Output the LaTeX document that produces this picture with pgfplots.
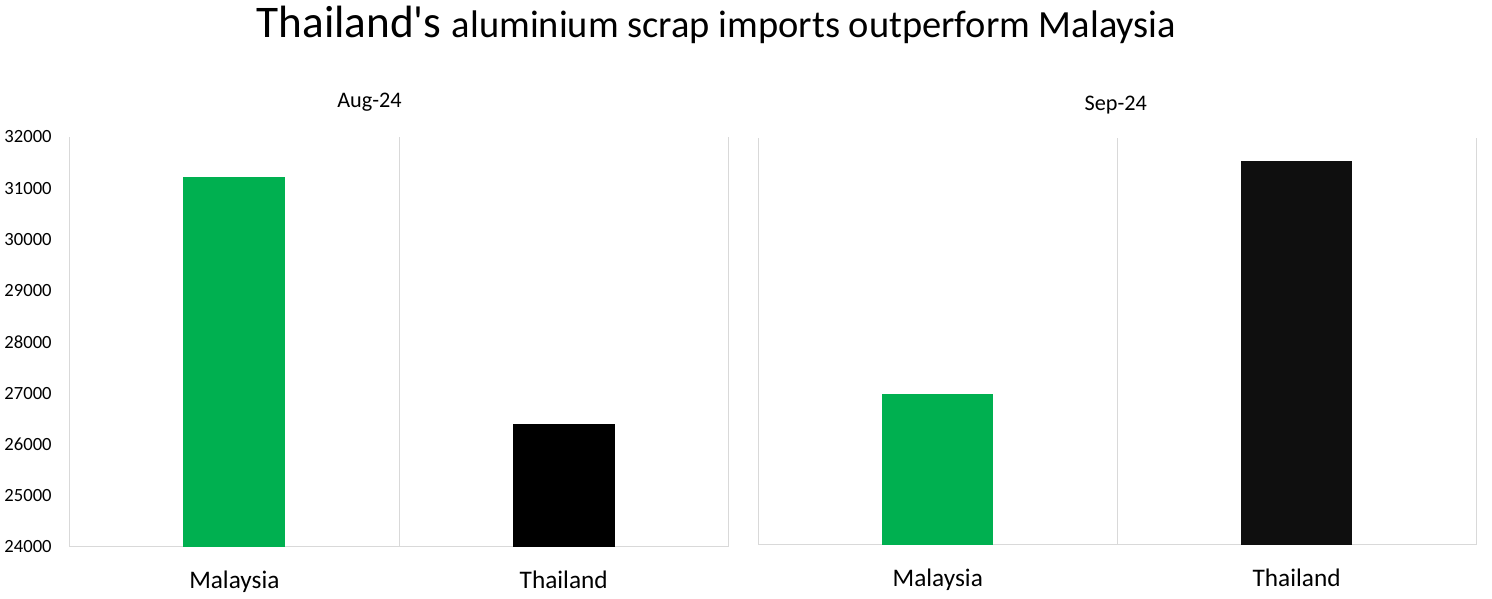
\documentclass[border=0pt]{standalone}
\usepackage{pgfplots}
\pgfplotsset{compat=1.18}
\usepackage{fontspec}
\setmainfont{Carlito}
\definecolor{xgreen}{HTML}{00B050}
\definecolor{xblack}{HTML}{0F0F0F}
\definecolor{gridgray}{HTML}{D9D9D9}
\pgfplotsset{panel/.style={
  scale only axis,
  ymin=24000, ymax=32000, xmin=-0.5, xmax=1.5,
  scaled y ticks=false,
  xtick={0,1}, xticklabels={Malaysia,Thailand},
  minor xtick={-0.5,0.5,1.5},
  xminorgrids=true,
  minor grid style={draw=gridgray, line width=0.75pt},
  axis x line*=bottom, axis y line*=left,
  x axis line style={draw=gridgray, line width=0.75pt, -},
  y axis line style={draw=none},
  major tick length=0pt, minor tick length=0pt,
  tick style={draw=none},
  xticklabel style={font=\fontsize{19}{21}\selectfont, anchor=base, yshift=-31pt},
  yticklabel style={font=\fontsize{14}{16}\selectfont, anchor=east, xshift=-10pt},
  clip=true,
}}
\begin{document}
\begin{tikzpicture}
\path (0,0) rectangle (1119pt,450pt);
\node[anchor=base] at (536.25pt,421.5pt) {\fontsize{34}{36}\selectfont Thailand\textquotesingle s \fontsize{28.9}{31}\selectfont aluminium scrap imports outperform Malaysia};
\node[anchor=base] at (275.5pt,369pt) {\fontsize{16.7}{18}\selectfont Aug-24};
\node[anchor=base] at (836.25pt,366.75pt) {\fontsize{16.7}{18}\selectfont Sep-24};
\begin{axis}[panel,
  at={(50.25pt,39pt)}, anchor=south west,
  width=495pt, height=308.25pt,
  ytick={24000,25000,26000,27000,28000,29000,30000,31000,32000},
  yticklabels={24000,25000,26000,27000,28000,29000,30000,31000,32000},
]
\addplot[ybar, bar width=0.31, bar shift=0pt, fill=xgreen, draw=none] coordinates {(0,31220)};
\addplot[ybar, bar width=0.31, bar shift=0pt, fill=black, draw=none] coordinates {(1,26390)};
\end{axis}
\begin{axis}[panel,
  at={(567.75pt,40.5pt)}, anchor=south west,
  width=539.25pt, height=306pt,
  ytick=\empty,
]
\addplot[ybar, bar width=0.31, bar shift=0pt, fill=xgreen, draw=none] coordinates {(0,26960)};
\addplot[ybar, bar width=0.31, bar shift=0pt, fill=xblack, draw=none] coordinates {(1,31550)};
\end{axis}
\end{tikzpicture}
\end{document}
